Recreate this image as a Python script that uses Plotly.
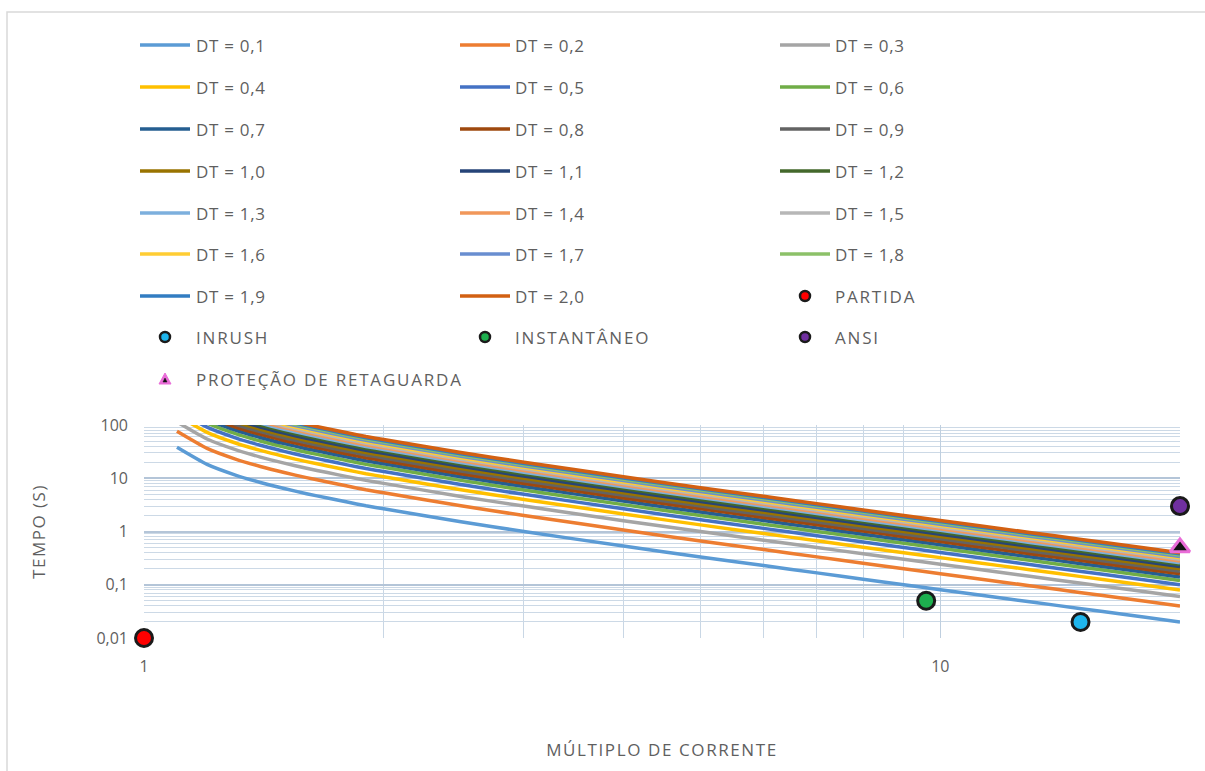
import plotly.graph_objects as go

# Current multiples (x) and the DT = 1 operating time of the curve family (s)
multiples = [1.1, 1.2, 1.3, 1.4, 1.5, 1.6, 1.7, 1.8, 1.9, 2.0, 2.5, 3, 4, 5, 6, 7, 8, 9, 10, 12, 14, 16, 18, 20]
time_dt1 = [381.0, 182.0, 116.0, 83.3, 64.0, 51.3, 42.6, 35.7, 30.4, 26.7, 15.2, 10.0, 5.33,
            3.33, 2.29, 1.67, 1.27, 1.00, 0.808, 0.559, 0.410, 0.314, 0.248, 0.200]

dial_settings = [0.1, 0.2, 0.3, 0.4, 0.5, 0.6, 0.7, 0.8, 0.9, 1.0,
                 1.1, 1.2, 1.3, 1.4, 1.5, 1.6, 1.7, 1.8, 1.9, 2.0]
dial_colors = ["#5B9BD5", "#ED7D31", "#A5A5A5", "#FFC000", "#4472C4", "#70AD47", "#255E91",
               "#9E480E", "#636363", "#997300", "#264478", "#43682B", "#7CAFDD", "#F1975A",
               "#B7B7B7", "#FFCD33", "#698ED0", "#8CC168", "#327DC2", "#D26012"]

# Point studies
partida_x, partida_y = [1], [0.01]
inrush_x, inrush_y = [15], [0.02]
instant_x, instant_y = [9.6], [0.05]
ansi_x, ansi_y = [20], [3]
retag_x, retag_y = [20], [0.5]

TEXT = "#5f5f5f"
FONT = "Open Sans"
FS = 17


def spaced(text, px_gap):
    return f'<span style="letter-spacing:{px_gap}px">{text}</span>'


fig = go.Figure()

for dt, col in zip(dial_settings, dial_colors):
    fig.add_trace(go.Scatter(
        x=multiples, y=[dt * t for t in time_dt1], mode="lines",
        line=dict(color=col, width=3.5, shape="spline", smoothing=0.6),
        name=f"DT = {dt:.1f}".replace(".", ","), showlegend=False))

points = [
    ("PARTIDA", partida_x, partida_y, "#FF0000", "circle", "#1a1a1a"),
    ("INRUSH", inrush_x, inrush_y, "#1FB5EC", "circle", "#1a1a1a"),
    ("INSTANTÂNEO", instant_x, instant_y, "#1DAF4E", "circle", "#1a1a1a"),
    ("ANSI", ansi_x, ansi_y, "#7030A0", "circle", "#1a1a1a"),
]
for name, xs, ys, col, sym, edge in points:
    fig.add_trace(go.Scatter(
        x=xs, y=ys, mode="markers", name=name, showlegend=False, cliponaxis=False,
        marker=dict(color=col, symbol=sym, size=17, line=dict(color=edge, width=3))))
fig.add_trace(go.Scatter(
    x=retag_x, y=retag_y, mode="markers", name="PROTEÇÃO DE RETAGUARDA",
    showlegend=False, cliponaxis=False,
    marker=dict(color="#111111", symbol="triangle-up", size=17,
                line=dict(color="#E96CD8", width=3))))

# ---- plot geometry in pixels (paper <-> pixel helpers) ----
W, H = 1205, 771
L, R, T, B = 144, 1180, 425, 638


def px(x):
    return (x - L) / (R - L)


def py(y):
    return (B - y) / (B - T)


shapes = []
annotations = []

# outer chart frame
shapes.append(dict(type="rect", xref="paper", yref="paper",
                   x0=px(7), x1=px(1215), y0=py(790), y1=py(12),
                   line=dict(color="#D9D9D9", width=1.5), fillcolor="rgba(0,0,0,0)", layer="below"))

# ---- legend drawn in three columns ----
row_y = [45, 87, 129, 171, 213, 254, 296, 337, 379]
col_line_x = [140, 460, 780]
col_text_x = [194, 513, 833]

entries = []
for dt, col in zip(dial_settings, dial_colors):
    entries.append(("line", f"DT = {dt:.1f}".replace(".", ","), col, None))
for name, xs, ys, col, sym, edge in points:
    entries.append(("circle", name, col, edge))
entries.append(("triangle", "PROTEÇÃO DE RETAGUARDA", "#E96CD8", "#111111"))

for i, (kind, label, col, edge) in enumerate(entries):
    r, c = divmod(i, 3)
    yy = row_y[r]
    x0 = col_line_x[c]
    if kind == "line":
        shapes.append(dict(type="line", xref="paper", yref="paper",
                           x0=px(x0), x1=px(x0 + 50), y0=py(yy), y1=py(yy),
                           line=dict(color=col, width=3.5)))
        shown = spaced(label, 0.7)
    elif kind == "circle":
        shapes.append(dict(type="circle", xref="paper", yref="paper",
                           xsizemode="pixel", ysizemode="pixel",
                           xanchor=px(x0 + 25), yanchor=py(yy),
                           x0=-5, x1=5, y0=-5, y1=5,
                           fillcolor=col, line=dict(color=edge, width=2.5)))
        shown = spaced(label, 1.8)
    else:
        shapes.append(dict(type="path", xref="paper", yref="paper",
                           xsizemode="pixel", ysizemode="pixel",
                           xanchor=px(x0 + 25), yanchor=py(yy),
                           path="M -6 -5 L 6 -5 L 0 6 Z",
                           fillcolor=col, line=dict(color=col, width=1)))
        shapes.append(dict(type="path", xref="paper", yref="paper",
                           xsizemode="pixel", ysizemode="pixel",
                           xanchor=px(x0 + 25), yanchor=py(yy),
                           path="M -2 -3 L 2 -3 L 0 1 Z",
                           fillcolor=edge, line=dict(color=edge, width=0.5)))
        shown = spaced(label, 1.8)
    annotations.append(dict(xref="paper", yref="paper", x=px(col_text_x[c]), y=py(yy),
                            xanchor="left", yanchor="middle", showarrow=False,
                            text=shown, font=dict(family=FONT, size=FS, color=TEXT)))

minor_y = [m * 10 ** e for e in range(-2, 2) for m in range(2, 10)]
minor_x = [2, 3, 4, 5, 6, 7, 8, 9, 20]

fig.update_layout(
    width=W, height=H,
    margin=dict(l=L, r=W - R, t=T, b=H - B, pad=0),
    paper_bgcolor="white", plot_bgcolor="white",
    separators=",.",
    showlegend=False,
    font=dict(family=FONT, size=FS, color=TEXT),
    shapes=shapes,
    annotations=annotations,
    xaxis=dict(
        type="log", range=[0, 1.30103], tickvals=[1, 10], ticktext=["1", "10"],
        showgrid=True, gridcolor="#BFCFDF", gridwidth=1,
        minor=dict(tickvals=minor_x, showgrid=True, gridcolor="#C9D7E5", gridwidth=1),
        ticks="", ticklabelstandoff=17, zeroline=False, showline=False,
        tickfont=dict(family=FONT, size=16, color=TEXT),
        title=dict(text=spaced("MÚLTIPLO DE CORRENTE", 1.6), standoff=68,
                   font=dict(family=FONT, size=FS, color=TEXT)),
    ),
    yaxis=dict(
        type="log", range=[-2, 2], tickvals=[0.01, 0.1, 1, 10, 100],
        ticktext=["0,01", "0,1", "1", "10", "100"],
        showgrid=True, gridcolor="#B4C5D8", gridwidth=1.5,
        minor=dict(tickvals=minor_y, showgrid=True, gridcolor="#CCD9E6", gridwidth=1),
        ticks="", ticklabelstandoff=15, zeroline=False, showline=False,
        tickfont=dict(family=FONT, size=16, color=TEXT),
        title=dict(text=spaced("TEMPO (S)", 1.5), standoff=46,
                   font=dict(family=FONT, size=FS, color=TEXT)),
    ),
)

fig.write_html("out.html")
